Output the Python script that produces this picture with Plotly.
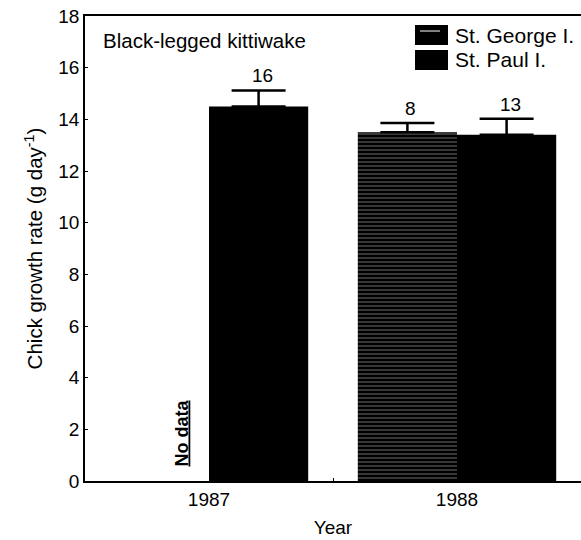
import plotly.graph_objects as go

years = ["1987", "1988"]
series_names = ["St. George I.", "St. Paul I."]
george_rate = [None, 13.5]
george_err = [None, 0.36]
george_n = [None, 8]
paul_rate = [14.5, 13.4]
paul_err = [0.62, 0.62]
paul_n = [16, 13]
y_ticks = [0, 2, 4, 6, 8, 10, 12, 14, 16, 18]

FONT = "Liberation Sans, Arial, sans-serif"

fig = go.Figure()
fig.add_trace(go.Bar(
    x=years, y=george_rate, name=series_names[0],
    marker=dict(color="black", line=dict(width=0),
                pattern=dict(shape="-", bgcolor="black", fgcolor="white",
                             size=4, solidity=0.22)),
    error_y=dict(type="data", symmetric=False, array=george_err,
                 arrayminus=[0, 0], color="black", thickness=2.5, width=27),
))
fig.add_trace(go.Bar(
    x=years, y=paul_rate, name=series_names[1],
    marker=dict(color="black", line=dict(width=0)),
    error_y=dict(type="data", symmetric=False, array=paul_err,
                 arrayminus=[0, 0], color="black", thickness=2.5, width=27),
))

annotations = []
# n labels above error bars
for i, yr in enumerate(years):
    if george_rate[i] is not None:
        annotations.append(dict(x=i, y=george_rate[i] + george_err[i],
                                text=str(george_n[i]), showarrow=False,
                                xshift=-47, yshift=2, yanchor="bottom",
                                font=dict(size=19, family=FONT, color="black")))
    if paul_rate[i] is not None:
        annotations.append(dict(x=i, y=paul_rate[i] + paul_err[i],
                                text=str(paul_n[i]), showarrow=False,
                                xshift=53, yshift=2, yanchor="bottom",
                                font=dict(size=19, family=FONT, color="black")))
    if george_rate[i] is None:
        annotations.append(dict(x=i, y=0, text="<b><u>No data</u></b>",
                                showarrow=False, textangle=-90,
                                xshift=-28, yshift=12, yanchor="bottom",
                                font=dict(size=18, family=FONT, color="black")))

annotations.append(dict(x=(101 - 85) / 496, y=(481 - 40) / 465, xref="paper", yref="paper",
                        text="Black-legged kittiwake", showarrow=False,
                        xanchor="left", yanchor="middle",
                        font=dict(size=20.5, family=FONT, color="black")))
# manual legend
legend_y = [35, 60]
shapes = []
for k, name in enumerate(series_names):
    yc = legend_y[k]
    shapes.append(dict(type="rect", xref="paper", yref="paper",
                       x0=(415 - 85) / 496, x1=(448 - 85) / 496,
                       y0=(481 - (yc - 10)) / 465, y1=(481 - (yc + 10)) / 465,
                       fillcolor="black", line=dict(width=0)))
    annotations.append(dict(x=(453 - 85) / 496, y=(481 - yc) / 465,
                            xref="paper", yref="paper", text=name,
                            showarrow=False, xanchor="left", yanchor="middle",
                            font=dict(size=21, family=FONT, color="black")))
shapes.append(dict(type="line", xref="paper", yref="paper",
                   x0=(420 - 85) / 496, x1=(440 - 85) / 496,
                   y0=(481 - 31) / 465, y1=(481 - 31) / 465,
                   line=dict(color="white", width=1)))

fig.update_layout(
    width=581, height=540,
    margin=dict(l=85, r=0, t=16, b=59),
    paper_bgcolor="white", plot_bgcolor="white",
    barmode="group", bargap=0.2, bargroupgap=0,
    showlegend=False,
    font=dict(family=FONT, size=19, color="black"),
    annotations=annotations, shapes=shapes,
    xaxis=dict(type="category", range=[-0.5, 1.5], showline=True, linecolor="black",
               linewidth=1.5, mirror=True, ticks="inside", ticklen=3,
               tickson="boundaries", tickcolor="black", showgrid=False,
               title=dict(text="Year", font=dict(size=19, family=FONT), standoff=12),
               tickfont=dict(size=19, family=FONT)),
    yaxis=dict(range=[0, 18], tickvals=y_ticks, showline=True, linecolor="black",
               linewidth=1.5, ticks="inside", ticklen=3, tickcolor="black",
               showgrid=False, zeroline=False,
               title=dict(text="Chick growth rate (g day<sup>-1</sup>)",
                          font=dict(size=20.5, family=FONT), standoff=10),
               tickfont=dict(size=19, family=FONT)),
)

fig.write_html("out.html")
